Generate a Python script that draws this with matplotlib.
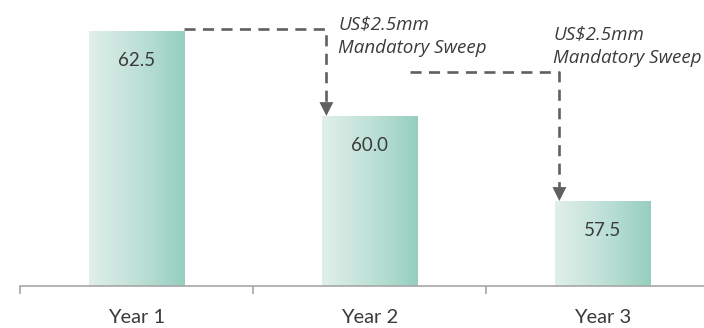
import numpy as np
import matplotlib
matplotlib.use("Agg")
import matplotlib.pyplot as plt
from matplotlib.colors import LinearSegmentedColormap

# Debt balance by year (US$mm)
years = ["Year 1", "Year 2", "Year 3"]
balances = [62.5, 60.0, 57.5]
value_labels = ["62.5", "60.0", "57.5"]
sweep_text = "US$2.5mm\nMandatory Sweep"

# dashed connector levels (value axis) and start positions (category axis)
connector_levels = [62.56, 61.29]
connector_starts = [0.205, 1.174]

plt.rcParams["font.family"] = ["Lato", "DejaVu Sans"]

fig = plt.figure(figsize=(7.04, 3.28), dpi=100)
ax = fig.add_axes([20 / 704, 42 / 328, 699 / 704, 286 / 328])

x = np.arange(len(years))
width = 0.41
bars = ax.bar(x, balances, width=width, color="none", edgecolor="none", zorder=2)

ax.set_xlim(-0.5, len(years) - 0.5)
ax.set_ylim(55, 55 + 286 / 34)

# horizontal teal gradient fill for each bar
cmap = LinearSegmentedColormap.from_list("teal", ["#e1efeb", "#bfe1d7", "#96cfbf"])
grad = np.linspace(0, 1, 256).reshape(1, -1)
for b in bars:
    x0, y0 = b.get_x(), b.get_y()
    ax.imshow(grad, cmap=cmap, aspect="auto", zorder=1,
              extent=[x0, x0 + b.get_width(), y0, y0 + b.get_height()])

text_color = "#3b3b3b"
for xi, val, lab in zip(x, balances, value_labels):
    ax.annotate(lab, xy=(xi, val), xytext=(0, -21), textcoords="offset points",
                ha="center", va="center", fontsize=13.5, color=text_color, zorder=4)

# dashed sweep connectors with arrow heads
dash_color = "#5f6061"
for i, (level, start) in enumerate(zip(connector_levels, connector_starts)):
    target = bars[i + 1]
    xt = target.get_x() + 0.02
    tip = balances[i + 1]
    head_len = 14 / 34
    ax.plot([start, xt, xt], [level, level, tip + head_len], color=dash_color,
            lw=1.9, ls=(0, (4.2, 2.8)), zorder=3, solid_capstyle="butt",
            dash_capstyle="butt")
    ax.annotate("", xy=(xt, tip), xytext=(xt, tip + head_len),
                arrowprops=dict(arrowstyle="-|>,head_length=1.0,head_width=0.5",
                                color=dash_color, lw=0, shrinkA=0, shrinkB=0),
                zorder=3)

# sweep notes, anchored on the baseline of their last line
sweep_font = dict(family=["Open Sans", "DejaVu Sans"], style="italic",
                  fontsize=13.5, color=text_color, linespacing=1.4)
ax.text(0.865, 61.85, sweep_text, ha="left", va="baseline", **sweep_font)
ax.text(1.788, 61.56, sweep_text, ha="left", va="baseline", **sweep_font)

# category axis: ticks on boundaries, labels centred under bars
for s in ["left", "top", "right"]:
    ax.spines[s].set_visible(False)
ax.spines["bottom"].set_color("#a6a6a6")
ax.spines["bottom"].set_linewidth(1.2)
ax.set_yticks([])
ax.set_xticks(np.arange(-0.5, len(years), 1.0))
ax.set_xticklabels([])
ax.tick_params(axis="x", which="major", length=6, width=1.2, color="#a6a6a6")
ax.set_xticks(x, minor=True)
ax.set_xticklabels(years, minor=True)
ax.tick_params(axis="x", which="minor", length=0, pad=16.5, labelsize=14.5,
               labelcolor=text_color)

fig.savefig("out.png", dpi=100)
